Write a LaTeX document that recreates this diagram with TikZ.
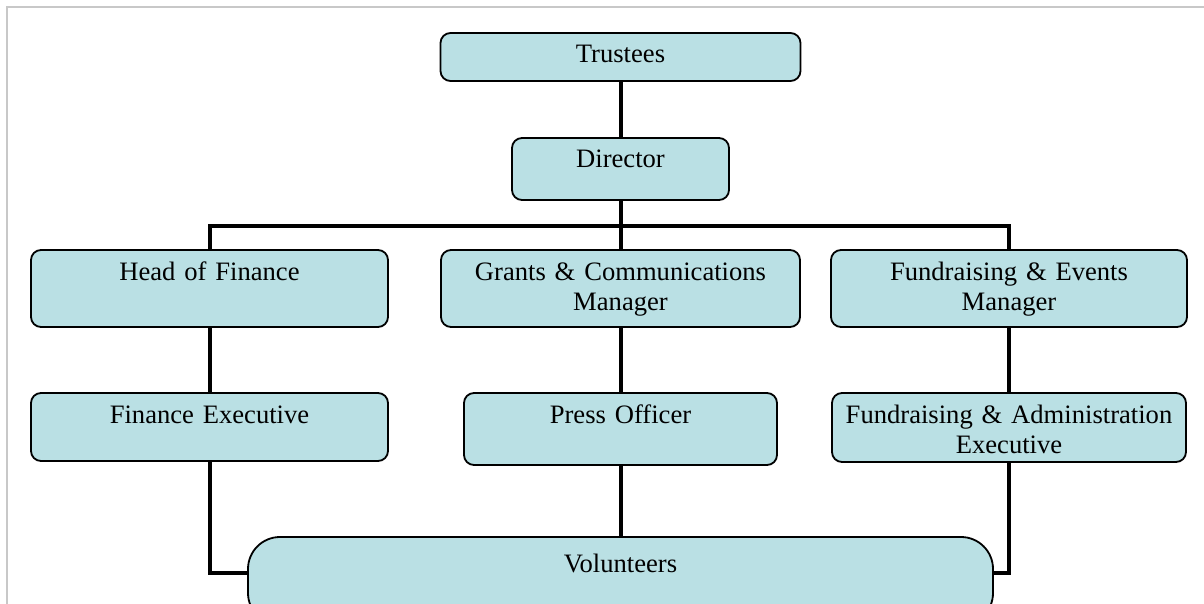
\documentclass[tikz,border=0pt]{standalone}
\usepackage{fontspec}
\setmainfont{Liberation Serif}
\usepackage{tikz}
\definecolor{boxblue}{RGB}{186,224,228}
\definecolor{edgegrey}{RGB}{200,200,200}
\tikzset{
	orgbox/.style={rectangle, rounded corners=5pt, draw=black, line width=0.9pt, fill=boxblue, inner sep=0pt, align=center, text height=15pt, font=\fontsize{13.3}{15}\selectfont},
	bigbox/.style={orgbox, rounded corners=16pt, text height=17.5pt},
	link/.style={line width=2pt},
	pageedge/.style={draw=edgegrey, line width=1pt}
}

\begin{document}
\begin{tikzpicture}[x=0.5pt, y=-0.5pt]
		\useasboundingbox (0,0) rectangle (1204,604);
		\clip (0,0) rectangle (1204,604);
		\draw [pageedge] (7,604) -- (7,7) -- (1204,7);
		
		% Nodes
		\node (trustees) [orgbox, text width=180pt, text depth=9pt] at (620.5,57) {Trustees};
		\node (director) [orgbox, text width=108.5pt, text depth=16pt] at (620.5,169) {Director};
		\node (hof) [orgbox, text width=178.5pt, text depth=23.5pt] at (209.5,288.5) {Head of Finance};
		\node (gcm) [orgbox, text width=179.5pt, text depth=23.5pt] at (620.5,288.5) {Grants \& Communications\\Manager};
		\node (fem) [orgbox, text width=178pt, text depth=23.5pt] at (1009,288.5) {Fundraising \& Events\\Manager};
		\node (fex) [orgbox, text width=178.5pt, text depth=19pt] at (209.5,427) {Finance Executive};
		\node (press) [orgbox, text width=156.5pt, text depth=21pt] at (620.5,429) {Press Officer};
		\node (fae) [orgbox, text width=177pt, text depth=19.5pt] at (1009,427.5) {Fundraising \& Administration\\Executive};
		\node (vol) [bigbox, text width=372.5pt, text depth=26.5pt] at (620.5,581) {Volunteers};
		\coordinate (bar) at (620.5,226);
		
		% Lines
		\draw [link] (trustees) -- (director);
		\draw [link] (director) -- (gcm);
		\draw [link] (hof.north) |- (bar) -| (fem.north);
		\draw [link] (hof) -- (fex);
		\draw [link] (gcm) -- (press);
		\draw [link] (fem) -- (fae);
		\draw [link] (fex.south) |- ([yshift=4pt]vol.west);
		\draw [link] (press) -- (vol);
		\draw [link] (fae.south) |- ([yshift=4pt]vol.east);
		
	\end{tikzpicture}
\end{document}
